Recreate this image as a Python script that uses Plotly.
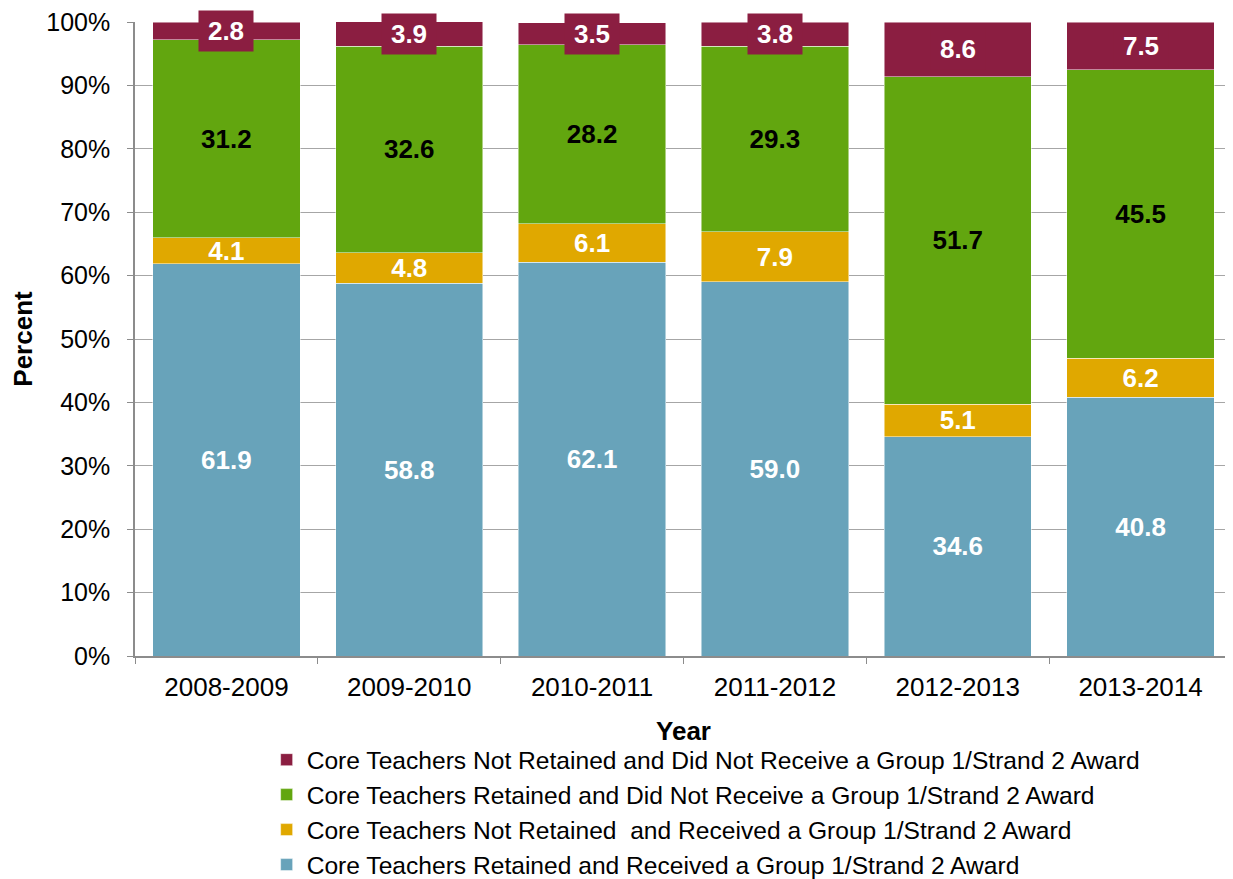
import plotly.graph_objects as go

years = ["2008-2009", "2009-2010", "2010-2011", "2011-2012", "2012-2013", "2013-2014"]
retained_award = [61.9, 58.8, 62.1, 59.0, 34.6, 40.8]
not_retained_award = [4.1, 4.8, 6.1, 7.9, 5.1, 6.2]
retained_no_award = [31.2, 32.6, 28.2, 29.3, 51.7, 45.5]
not_retained_no_award = [2.8, 3.9, 3.5, 3.8, 8.6, 7.5]

names = [
    "Core Teachers Retained and Received a Group 1/Strand 2 Award",
    "Core Teachers Not Retained  and Received a Group 1/Strand 2 Award",
    "Core Teachers Retained and Did Not Receive a Group 1/Strand 2 Award",
    "Core Teachers Not Retained and Did Not Receive a Group 1/Strand 2 Award",
]
colors = ["#68A3BA", "#E0A800", "#62A60F", "#8B1E41"]
text_colors = ["white", "white", "black", "white"]
series = [retained_award, not_retained_award, retained_no_award, not_retained_no_award]

FONT = "Liberation Sans, Arial, sans-serif"
LFS = 26   # data labels
TFS = 26   # tick labels / titles

fig = go.Figure()
for i, (vals, name, col, tc) in enumerate(zip(series, names, colors, text_colors)):
    show_text = i < 3
    fig.add_trace(go.Bar(
        x=years, y=vals, name=name, legendgroup=f"g{i}",
        marker=dict(color=col, line=dict(color="rgba(255,255,255,0.6)", width=0.8)),
        text=[f"{v:.1f}" for v in vals] if show_text else None,
        textposition="inside" if show_text else "none",
        insidetextanchor="middle",
        textfont=dict(color=tc, size=LFS, family=FONT, weight="bold"),
        hoverinfo="skip",
    ))

# labels for top series with background boxes
for j, yr in enumerate(years):
    base = retained_award[j] + not_retained_award[j] + retained_no_award[j]
    v = not_retained_no_award[j]
    fig.add_annotation(
        x=yr, y=base + v / 2, xref="x", yref="y",
        text=f"<b>{v:.1f}</b>", showarrow=False,
        font=dict(color="white", size=LFS, family=FONT),
        bgcolor=colors[3], borderpad=5, width=44, height=30,
    )

fig.update_layout(
    barmode="stack",
    bargap=0.195,
    width=1225, height=871,
    margin=dict(l=127, r=1, t=14, b=223, autoexpand=False),
    plot_bgcolor="white", paper_bgcolor="white",
    font=dict(family=FONT, size=TFS, color="black"),
    uniformtext=dict(minsize=LFS, mode="show"),
    showlegend=True,
    legend=dict(
        orientation="v", traceorder="reversed",
        x=0.12, xanchor="left", y=-0.128, yanchor="top",
        font=dict(size=24.6, family=FONT),
        tracegroupgap=7,
        bgcolor="rgba(0,0,0,0)",
    ),
    xaxis=dict(
        automargin=False,
        title=dict(text="<b>Year</b>", font=dict(size=TFS), standoff=21),
        tickson="boundaries", ticks="outside", ticklen=6, tickcolor="#8C8C8C",
        ticklabelstandoff=7,
        showline=True, linecolor="#8C8C8C", linewidth=1.5,
        tickfont=dict(size=TFS),
    ),
    yaxis=dict(
        automargin=False,
        title=dict(text="<b>Percent</b>", font=dict(size=TFS), standoff=24),
        range=[0, 100], tickmode="array",
        tickvals=[0, 10, 20, 30, 40, 50, 60, 70, 80, 90, 100],
        ticktext=["0%", "10%", "20%", "30%", "40%", "50%", "60%", "70%", "80%", "90%", "100%"],
        ticklabeloverflow="allow",
        ticks="outside", ticklen=6, tickcolor="#8C8C8C",
        ticklabelstandoff=12,
        showline=True, linecolor="#8C8C8C", linewidth=1.5,
        showgrid=True, gridcolor="#A6A6A6", gridwidth=1.2,
        tickfont=dict(size=25),
        zeroline=False,
    ),
)

fig.write_html("out.html")
